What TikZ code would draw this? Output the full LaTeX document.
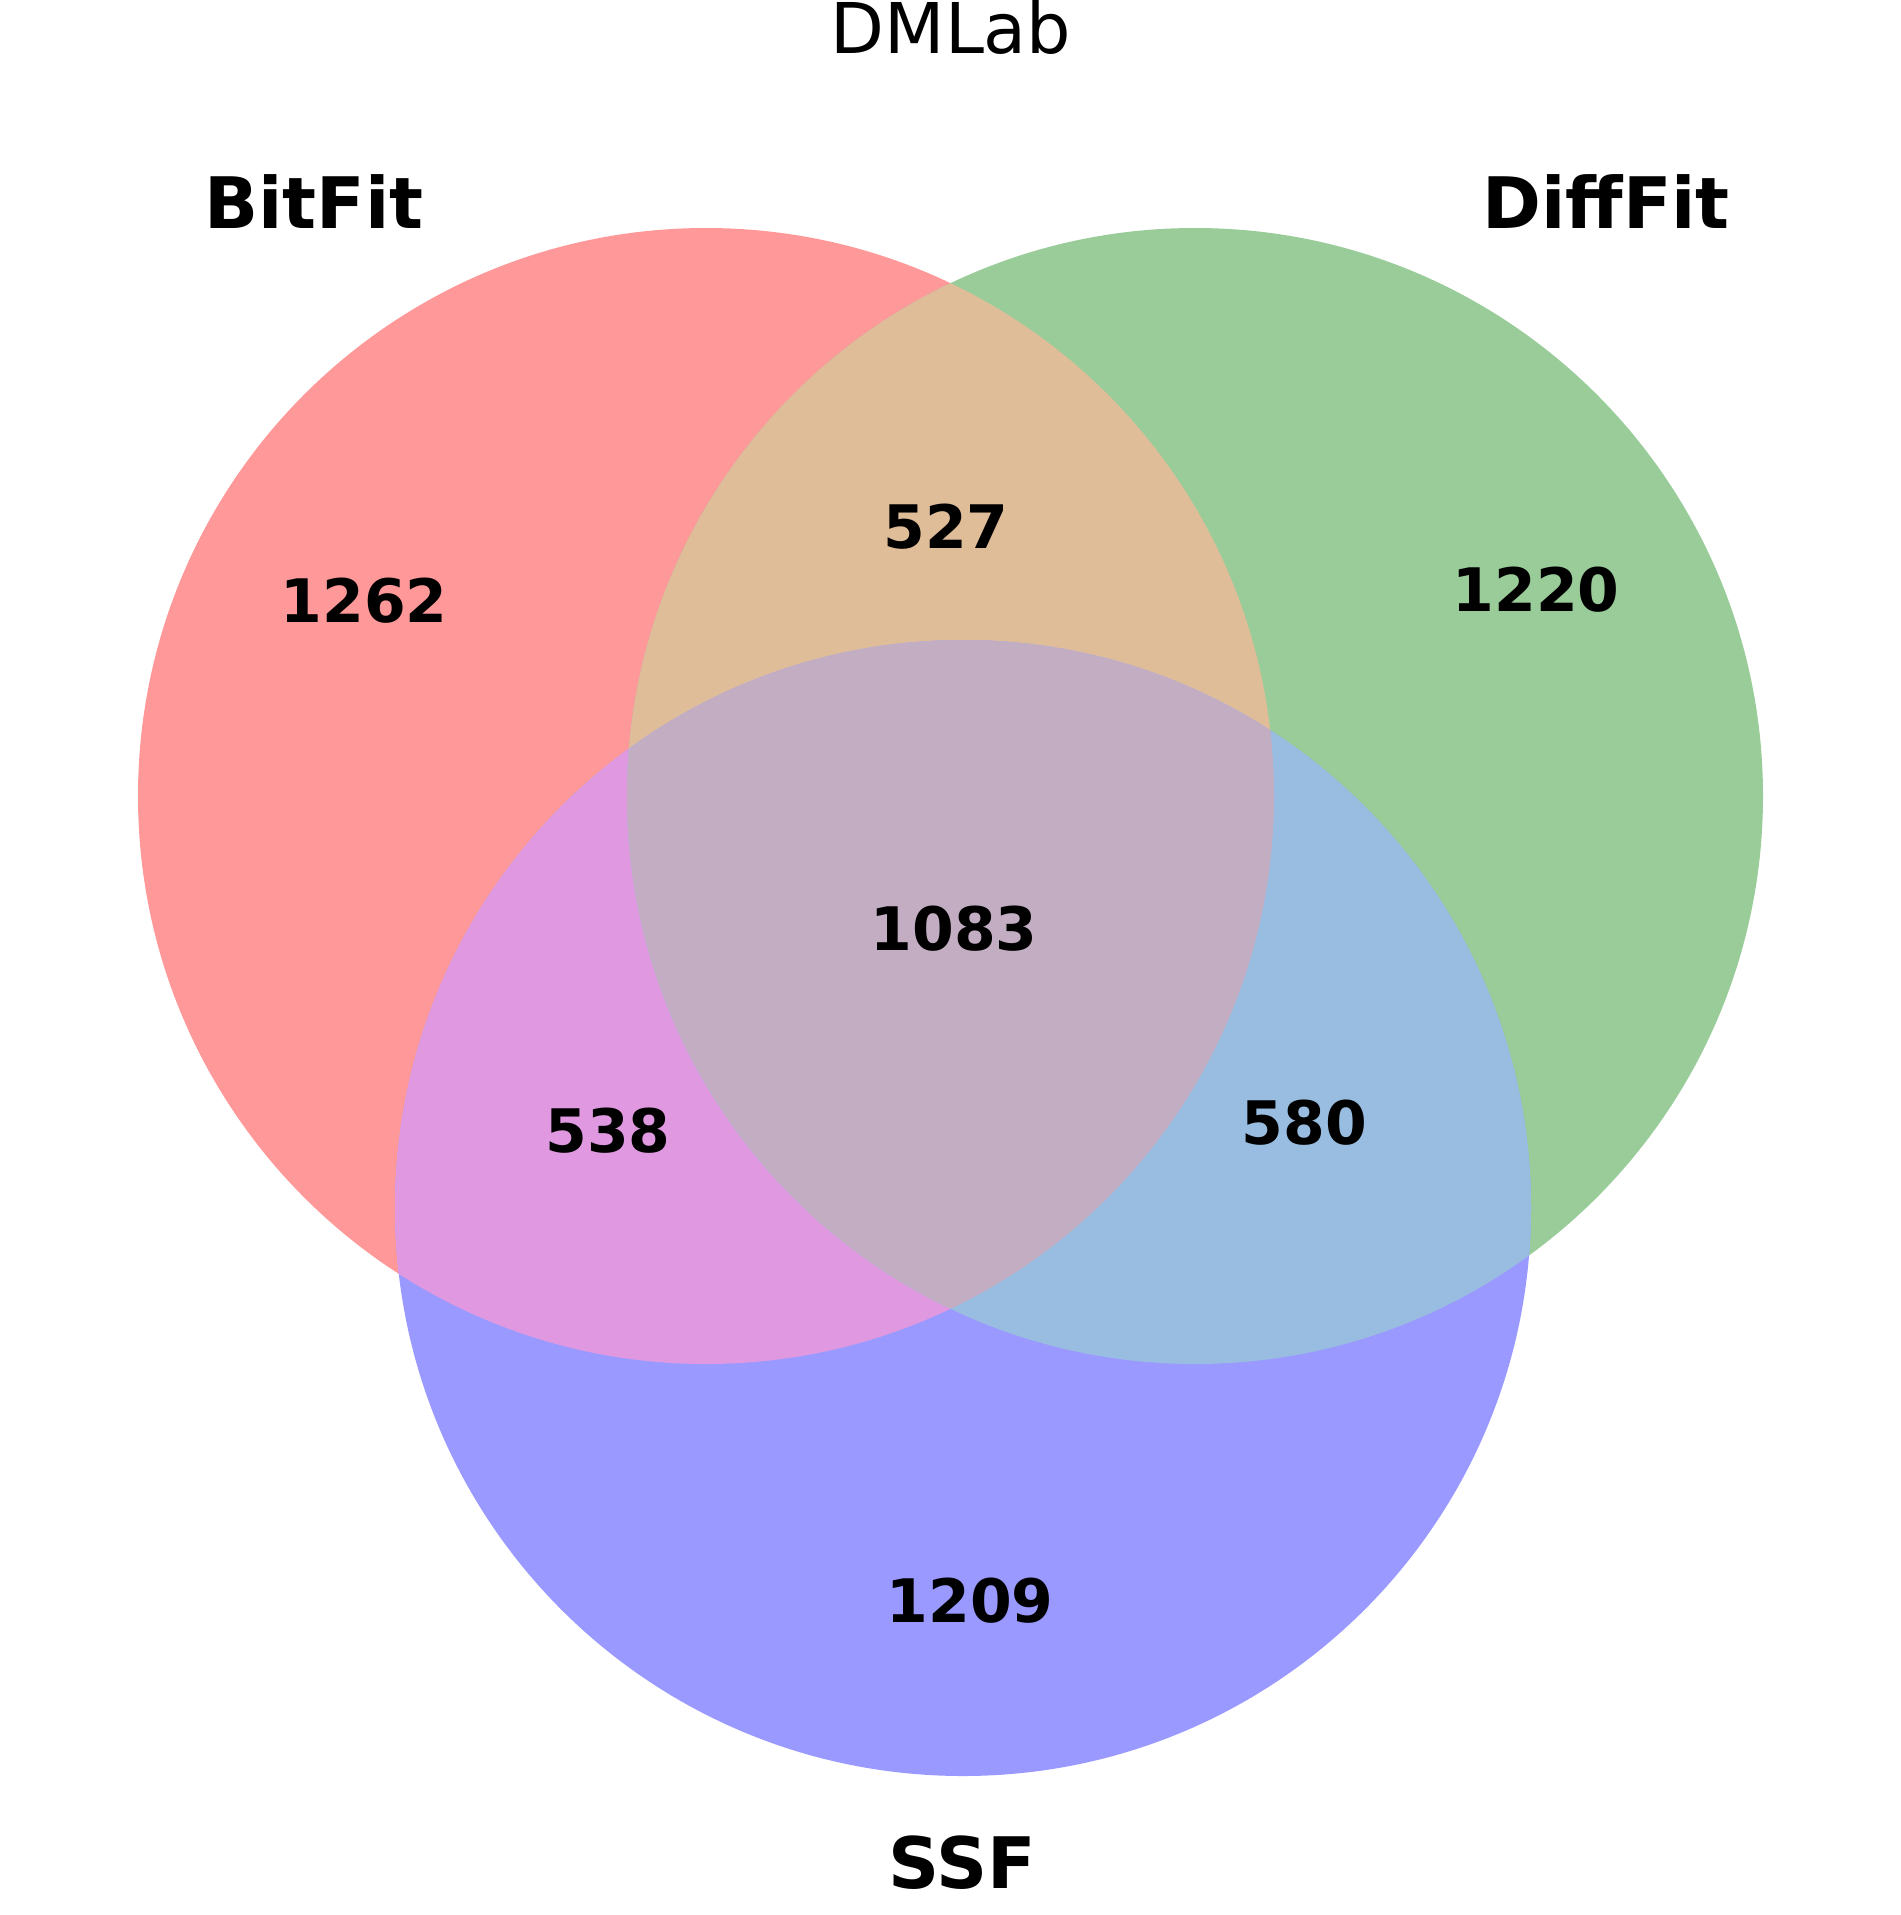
\documentclass[tikz,border=0pt]{standalone}
\usepackage{fontspec}
\setmainfont{DejaVu Sans}
\definecolor{cR}{RGB}{255,153,153}
\definecolor{cG}{RGB}{153,204,153}
\definecolor{cB}{RGB}{153,153,255}
\definecolor{cRG}{RGB}{224,189,153}
\definecolor{cRB}{RGB}{224,153,224}
\definecolor{cGB}{RGB}{153,189,224}
\definecolor{cRGB}{RGB}{194,173,194}
\tikzset{
  num/.style={anchor=base, inner sep=0pt, font=\fontsize{60}{68}\selectfont\bfseries},
  setlabel/.style={anchor=base, inner sep=0pt, font=\fontsize{71}{78}\selectfont\bfseries},
  titlelabel/.style={anchor=base, inner sep=0pt, font=\fontsize{70}{77}\selectfont}
}
\begin{document}
\begin{tikzpicture}[x=1pt,y=-1pt]
\useasboundingbox (0,0) rectangle (1901,1915);
\def\rr{568pt}
\coordinate (cr) at (706,796);
\coordinate (cg) at (1195,796);
\coordinate (cb) at (963,1208);
% base circles
\fill[cR] (cr) circle[radius=\rr];
\fill[cG] (cg) circle[radius=\rr];
\fill[cB] (cb) circle[radius=\rr];
% red-green
\begin{scope}
  \clip (cr) circle[radius=\rr];
  \fill[cRG] (cg) circle[radius=\rr];
\end{scope}
% red-blue
\begin{scope}
  \clip (cr) circle[radius=\rr];
  \fill[cRB] (cb) circle[radius=\rr];
\end{scope}
% green-blue
\begin{scope}
  \clip (cg) circle[radius=\rr];
  \fill[cGB] (cb) circle[radius=\rr];
\end{scope}
% all three
\begin{scope}
  \clip (cr) circle[radius=\rr];
  \clip (cg) circle[radius=\rr];
  \fill[cRGB] (cb) circle[radius=\rr];
\end{scope}
% title and set labels
\node[titlelabel] (title) at (951,53) {DMLab};
\node[setlabel] (lbit) at (314,228) {BitFit};
\node[setlabel] (ldiff) at (1606,228) {DiffFit};
\node[setlabel] (lssf) at (962,1888) {SSF};
% region counts
\node[num] (n100) at (364,622.5) {1262};
\node[num] (n010) at (1536,611.5) {1220};
\node[num] (n110) at (946,548) {527};
\node[num] (n111) at (954,950) {1083};
\node[num] (n101) at (608,1152.5) {538};
\node[num] (n011) at (1304.5,1144) {580};
\node[num] (n001) at (970,1622.5) {1209};
\end{tikzpicture}
\end{document}
